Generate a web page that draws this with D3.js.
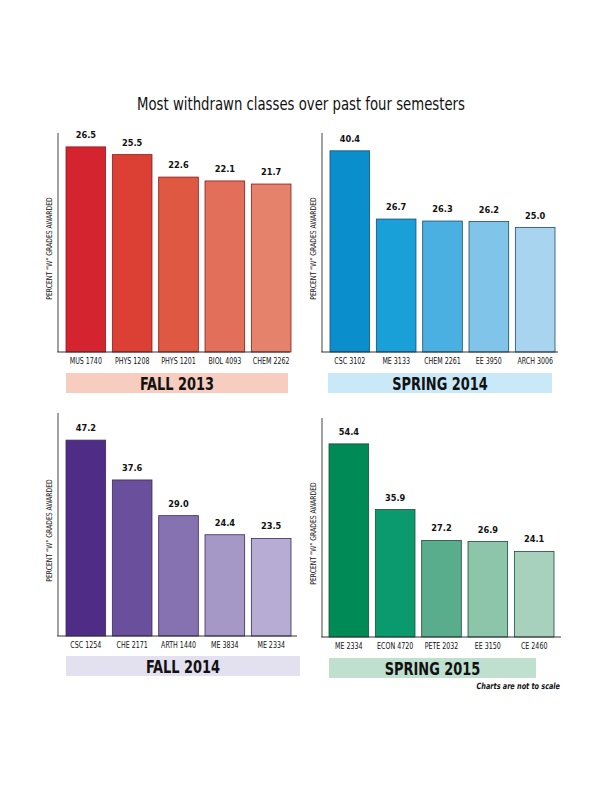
<!DOCTYPE html>
<html><head><meta charset="utf-8">
<script src="https://cdn.jsdelivr.net/npm/d3@7"></script>
<style>
body{margin:0;background:#fff;}
svg{display:block;}
</style></head>
<body>
<svg id="c" width="612" height="792"></svg>
<script>
const fall2013Classes = ["MUS 1740","PHYS 1208","PHYS 1201","BIOL 4093","CHEM 2262"];
const fall2013Values = [26.5,25.5,22.6,22.1,21.7];
const spring2014Classes = ["CSC 3102","ME 3133","CHEM 2261","EE 3950","ARCH 3006"];
const spring2014Values = [40.4,26.7,26.3,26.2,25.0];
const fall2014Classes = ["CSC 1254","CHE 2171","ARTH 1440","ME 3834","ME 2334"];
const fall2014Values = [47.2,37.6,29.0,24.4,23.5];
const spring2015Classes = ["ME 2334","ECON 4720","PETE 2032","EE 3150","CE 2460"];
const spring2015Values = [54.4,35.9,27.2,26.9,24.1];
const semesters = ["FALL 2013","SPRING 2014","FALL 2014","SPRING 2015"];
const title = "Most withdrawn classes over past four semesters";
const yLabel = "PERCENT \u201CW\u201D GRADES AWARDED";
const note = "Charts are not to scale";

const svg = d3.select("#c");
const condensed = "'Liberation Sans Narrow','DejaVu Sans Condensed','Roboto Condensed',sans-serif";

// horizontally-squeezed text helper
function squeezed(parent, x, y, sx, txt, rotate) {
  const g = parent.append("g").attr("transform", `translate(${x},${y})` + (rotate ? ` rotate(${rotate})` : "") + ` scale(${sx},1)`);
  return g.append("text").attr("x",0).attr("y",0).text(txt);
}

squeezed(svg, 301, 110, 0.82, title).attr("text-anchor","middle")
  .attr("font-family",condensed).attr("font-size",18).attr("fill","#111");

const panels = [
  {classes:fall2013Classes, values:fall2013Values, sem:semesters[0],
   x0:58, x1:290, top:133, base:352, barStart:66, pxPer:7.74,
   colors:["#d42430","#dc4035","#df5942","#e26f59","#e5826b"], stroke:"#8a1a1a",
   banner:{x:66,w:222,y:373,h:20,fill:"#f6cdbf"}},
  {classes:spring2014Classes, values:spring2014Values, sem:semesters[1],
   x0:322, x1:558, top:133, base:352, barStart:330, pxPer:4.98,
   colors:["#0a8fcc","#1aa0d8","#4ab0e1","#80c4e9","#a9d4ef"], stroke:"#1b4d6b",
   banner:{x:328,w:224,y:373,h:20,fill:"#c9e9f8"}},
  {classes:fall2014Classes, values:fall2014Values, sem:semesters[2],
   x0:58, x1:297, top:413, base:636, barStart:66, pxPer:4.15,
   colors:["#4f2d87","#6a4f9c","#8671b1","#a597c6","#b6acd4"], stroke:"#3a2a5a",
   banner:{x:66,w:234,y:656,h:20,fill:"#e3e0f0"}},
  {classes:spring2015Classes, values:spring2015Values, sem:semesters[3],
   x0:322, x1:561, top:418, base:637, barStart:329, pxPer:3.55,
   colors:["#008a55","#0a9a6e","#5aad8c","#8dc5aa","#a8d1bd"], stroke:"#1f4a38",
   banner:{x:329,w:207,y:658,h:20,fill:"#bfdfcf"}}
];

panels.forEach(p => {
  const g = svg.append("g");
  const maxV = d3.max(p.values);
  const y = d3.scaleLinear().domain([0, maxV]).range([p.base, p.base - maxV*p.pxPer]);
  const barW = 38.5, step = 45;
  const x = d3.scaleBand().domain(p.classes)
     .range([p.barStart, p.barStart + step*5]).paddingInner((step-barW)/step).paddingOuter(0).align(0);
  g.selectAll("rect.bar").data(p.values).join("rect").attr("class","bar")
    .attr("x",(d,i)=>x(p.classes[i])).attr("width",x.bandwidth())
    .attr("y",d=>y(d)).attr("height",d=>p.base-y(d))
    .attr("fill",(d,i)=>p.colors[i]).attr("stroke",p.stroke).attr("stroke-width",0.8);
  p.values.forEach((d,i) => {
    squeezed(g, x(p.classes[i])+x.bandwidth()/2, y(d)-9, 0.92, d.toFixed(1))
      .attr("text-anchor","middle").attr("font-family","'DejaVu Sans',sans-serif")
      .attr("font-weight","bold").attr("font-size",9).attr("fill","#111");
  });
  g.append("line").attr("x1",p.x0).attr("x2",p.x0).attr("y1",p.top).attr("y2",p.base)
    .attr("stroke","#8a8a8a").attr("stroke-width",1.6);
  g.append("line").attr("x1",p.x0-0.8).attr("x2",p.x1).attr("y1",p.base).attr("y2",p.base)
    .attr("stroke","#333").attr("stroke-width",1);
  // x axis via d3 axis, then squeeze labels
  const ax = d3.axisBottom(x).tickSize(0).tickPadding(5);
  const axg = g.append("g").attr("transform",`translate(0,${p.base})`).call(ax);
  axg.select(".domain").remove();
  axg.selectAll(".tick text").attr("font-family",condensed).attr("font-size",9.5).attr("fill","#111")
    .attr("transform","scale(0.74,1)")
    .attr("x",0);
  axg.selectAll(".tick").each(function(){
    // move scaled text so it stays centered at tick position
  });
  // y label
  const mid = (p.top + p.base)/2 + 6;
  squeezed(g, p.x0-6, mid, 0.85, yLabel, -90)
    .attr("text-anchor","middle").attr("font-family",condensed).attr("font-size",8)
    .attr("fill","#111");
  // banner
  g.append("rect").attr("x",p.banner.x).attr("y",p.banner.y).attr("width",p.banner.w)
    .attr("height",p.banner.h).attr("fill",p.banner.fill);
  squeezed(g, p.banner.x+p.banner.w/2, p.banner.y+p.banner.h/2+6.5, 0.8, p.sem)
    .attr("text-anchor","middle").attr("font-family",condensed).attr("font-weight","bold")
    .attr("font-size",18).attr("fill","#111");
});

squeezed(svg, 560, 689, 0.85, note).attr("text-anchor","end")
  .attr("font-family","'DejaVu Sans Condensed','Liberation Sans Narrow',sans-serif").attr("font-weight","bold")
  .attr("font-style","italic").attr("font-size",8.5).attr("fill","#111");
</script>
</body></html>
